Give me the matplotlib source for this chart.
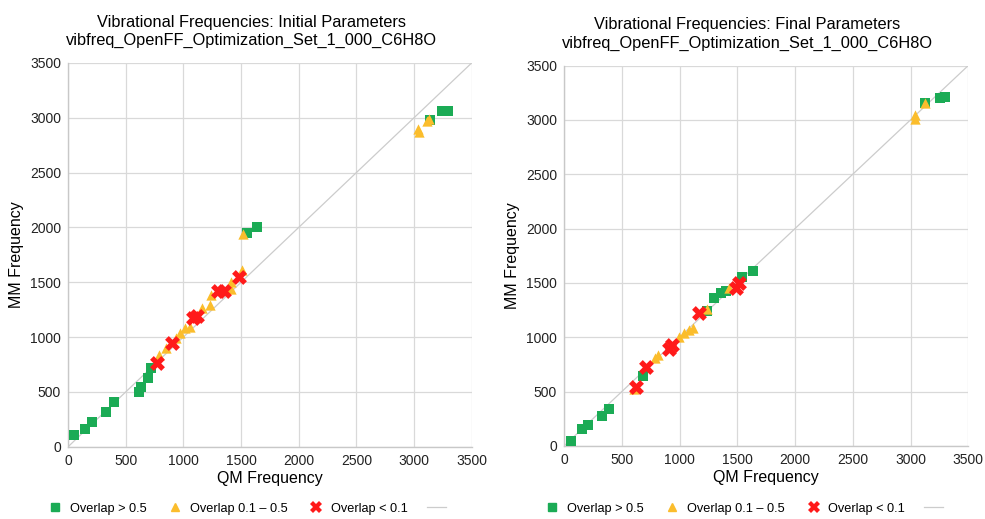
import matplotlib
matplotlib.use("Agg")
import matplotlib.pyplot as plt
from matplotlib.lines import Line2D

plt.rcParams['font.family'] = ['Liberation Sans', 'DejaVu Sans']

# Initial parameters: QM vs MM vibrational frequencies by overlap class
init_hi_qm = [55, 150, 211, 332, 399, 612, 633, 690, 722, 1548, 1635, 3137, 3245, 3295]
init_hi_mm = [110, 161, 228, 322, 407, 496, 544, 629, 717, 1945, 2000, 2975, 3063, 3063]
init_mid_qm = [788, 847, 932, 975, 1018, 1056, 1165, 1229, 1236, 1414, 1411, 1506, 1513, 3036, 3040, 3108, 3130]
init_mid_mm = [836, 902, 992, 1040, 1080, 1092, 1261, 1296, 1382, 1437, 1498, 1616, 1939, 2900, 2870, 2972, 2990]
init_lo_qm = [775, 900, 1084, 1115, 1297, 1352, 1482]
init_lo_mm = [762, 944, 1172, 1188, 1418, 1422, 1547]

# Final parameters
fin_hi_qm = [57, 152, 212, 329, 392, 688, 1238, 1302, 1363, 1401, 1542, 1637, 3127, 3255, 3300]
fin_hi_mm = [43, 160, 193, 279, 338, 645, 1245, 1360, 1410, 1427, 1553, 1614, 3160, 3205, 3215]
fin_mid_qm = [610, 790, 815, 996, 1039, 1082, 1116, 1238, 1430, 3042, 3042, 3127]
fin_mid_mm = [527, 808, 840, 1001, 1044, 1065, 1090, 1264, 1450, 3046, 3010, 3153]
fin_lo_qm = [627, 713, 905, 933, 1168, 1490, 1519]
fin_lo_mm = [545, 725, 893, 928, 1224, 1458, 1501]

ticks = [0, 500, 1000, 1500, 2000, 2500, 3000, 3500]
labels = ["Overlap > 0.5", "Overlap 0.1 \u2013 0.5", "Overlap < 0.1", ""]
molecule = "vibfreq_OpenFF_Optimization_Set_1_000_C6H8O"

GREEN = "#1bab55"
YELLOW = "#fbbd2c"
RED = "#ff1a1a"
GRID = "#d9d9d9"

fig = plt.figure(figsize=(9.85, 5.19), dpi=100)
ax1 = fig.add_axes([0.069, 0.139, 0.410, 0.740])
ax2 = fig.add_axes([0.5726, 0.1407, 0.4104, 0.733])

panels = [
    (ax1, "Initial", init_hi_qm, init_hi_mm, init_mid_qm, init_mid_mm, init_lo_qm, init_lo_mm, 0.252, 0.455),
    (ax2, "Final", fin_hi_qm, fin_hi_mm, fin_mid_qm, fin_mid_mm, fin_lo_qm, fin_lo_mm, 0.757, 0.453),
]

for ax, stage, hqx, hqy, mqx, mqy, lqx, lqy, lx, tx in panels:
    ax.plot([0, 3500], [0, 3500], color="#cccccc", lw=0.9, zorder=1)
    ax.scatter(hqx, hqy, marker="s", s=46, color=GREEN, linewidths=0, zorder=3)
    ax.scatter(mqx, mqy, marker="^", s=55, color=YELLOW, linewidths=0, zorder=4)
    ax.scatter(lqx, lqy, marker="X", s=115, color=RED, linewidths=0, zorder=5)
    ax.set_xlim(0, 3500)
    ax.set_ylim(0, 3500)
    ax.set_xticks(ticks)
    ax.set_yticks(ticks)
    ax.grid(True, color=GRID, lw=0.9)
    ax.set_axisbelow(True)
    for side in ("top", "right"):
        ax.spines[side].set_visible(False)
    for side in ("left", "bottom"):
        ax.spines[side].set_color("#c8c8c8")
        ax.spines[side].set_linewidth(1.0)
    ax.tick_params(length=0, labelsize=10, colors="#222222", pad=5)
    ax.set_xlabel("QM Frequency", fontsize=11.5, labelpad=2)
    ax.set_ylabel("MM Frequency", fontsize=11.5, labelpad=4)
    ax.set_title(f"Vibrational Frequencies: {stage} Parameters\n{molecule}",
                 fontsize=11.8, linespacing=1.25, pad=13, x=tx)

    handles = [
        Line2D([], [], marker="s", ls="", color=GREEN, markersize=6),
        Line2D([], [], marker="^", ls="", color=YELLOW, markersize=6),
        Line2D([], [], marker="X", ls="", color=RED, markersize=8, markeredgewidth=0),
        Line2D([], [], color="#cccccc", lw=0.9),
    ]
    fig.legend(handles, labels, loc="center", bbox_to_anchor=(lx, 0.02),
               ncol=4, frameon=False, fontsize=9.2, handlelength=1.5,
               handletextpad=0.4, columnspacing=1.5)

fig.savefig("out.png", dpi=100, facecolor="white")
